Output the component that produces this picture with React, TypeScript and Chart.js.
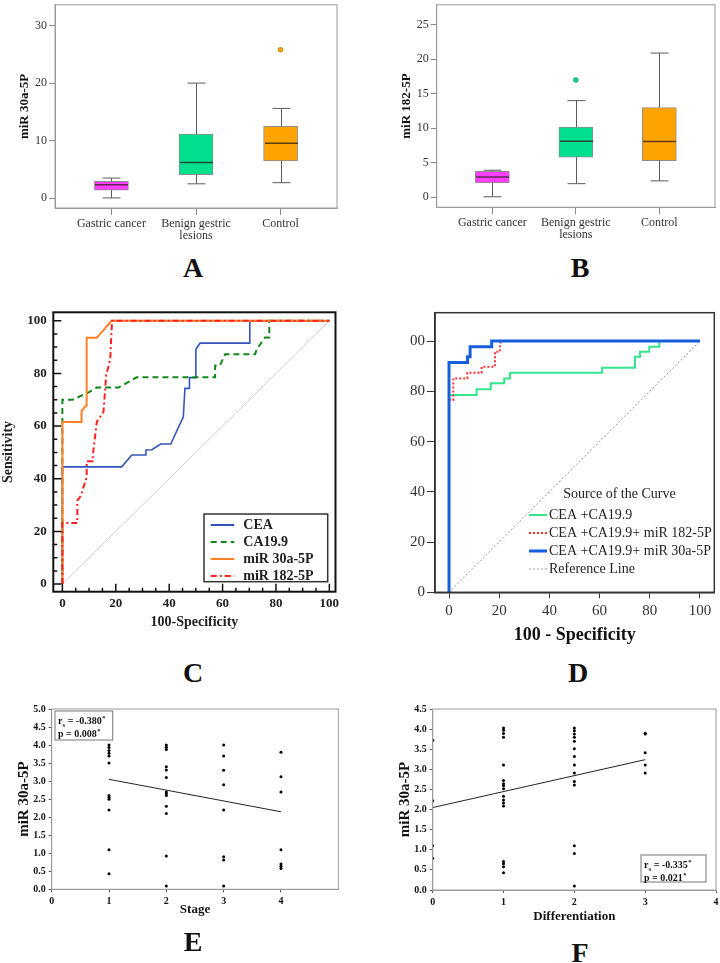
import React, { useEffect, useRef } from 'react';
import { Chart, registerables } from 'chart.js';

Chart.register(...registerables);

const SERIF = '"Liberation Serif", "Times New Roman", Times, serif';

// ---------------- Panels A & B : box plots ----------------
const groupLabels: (string | string[])[] = ['Gastric cancer', ['Benign gestric', 'lesions'], 'Control'];
const groupPos = [1, 2, 3];
const groupColors = ['#ff3dff', '#00e08e', '#ffa300'];

const miR30Min = [0.05, 2.5, 2.7];
const miR30Q1 = [1.4, 4.1, 6.5];
const miR30Median = [2.35, 6.2, 9.55];
const miR30Q3 = [2.95, 11.15, 12.5];
const miR30Max = [3.5, 20.0, 15.6];
const miR30OutlierGroup = [3];
const miR30OutlierValue = [25.8];
const miR30Ticks = [0, 10, 20, 30];

const miR182Min = [0.05, 1.95, 2.35];
const miR182Q1 = [2.05, 5.8, 5.3];
const miR182Median = [2.9, 8.1, 8.05];
const miR182Q3 = [3.75, 10.15, 13.0];
const miR182Max = [3.9, 14.0, 20.9];
const miR182OutlierGroup = [2];
const miR182OutlierValue = [17.0];
const miR182Ticks = [0, 5, 10, 15, 20, 25];

// ---------------- Panel C : single-marker ROC ----------------
const rocTicks = [0, 20, 40, 60, 80, 100];
const rocMinorTicks = [0, 5, 10, 15, 20, 25, 30, 35, 40, 45, 50, 55, 60, 65, 70, 75, 80, 85, 90, 95, 100];
const refX = [0, 100];
const refY = [0, 100];

const ceaX = [0, 0, 22.2, 26.0, 31.3, 31.3, 33.5, 36.8, 40.6, 45.3, 45.9, 47.6, 47.6, 49.7, 50.0, 51.6, 70.2, 70.2, 100];
const ceaY = [0, 44.5, 44.5, 49.0, 49.0, 50.9, 51.0, 53.2, 53.2, 63.5, 74.3, 74.3, 78.4, 78.4, 89.2, 91.5, 91.5, 100, 100];

const ca199X = [0, 0, 3.9, 10.0, 12.9, 21.0, 27.8, 57.2, 57.2, 59.0, 61.0, 72.2, 72.8, 75.9, 77.5, 77.5, 100];
const ca199Y = [0, 70.0, 70.0, 72.9, 74.6, 74.6, 78.5, 78.5, 83.0, 83.0, 87.3, 87.3, 89.2, 93.6, 93.6, 100, 100];

const mir30RocX = [0, 0, 7.2, 7.2, 8.9, 9.1, 12.9, 18.4, 100];
const mir30RocY = [0, 61.5, 61.5, 65.9, 67.8, 93.5, 93.5, 100, 100];

const mir182RocX = [0, 0, 5.6, 5.6, 7.0, 7.9, 9.1, 9.1, 11.4, 11.4, 12.9, 15.4, 16.4, 17.9, 18.6, 100];
const mir182RocY = [0, 23.2, 23.2, 31.7, 33.6, 36.8, 40.6, 46.6, 46.6, 48.9, 61.6, 65.4, 79.3, 85.1, 100, 100];

const cLegendLabels = ['CEA', 'CA19.9', 'miR 30a-5P', 'miR 182-5P'];

// ---------------- Panel D : combined ROC ----------------
const combX = [0, 0, 11.0, 11.0, 16.6, 16.6, 22.0, 22.0, 24.3, 24.3, 61.0, 61.0, 74.1, 74.1, 76.1, 76.1, 79.8, 79.8, 83.8, 83.8, 100];
const combY = [0, 78.5, 78.5, 80.8, 80.8, 83.2, 83.2, 85.1, 85.1, 87.4, 87.4, 89.4, 89.4, 93.8, 93.8, 95.8, 95.8, 97.7, 97.7, 100, 100];

const comb182X = [0, 0, 1.7, 1.7, 7.3, 7.3, 13.0, 13.0, 18.3, 18.3, 20.3, 20.3, 20.7, 100];
const comb182Y = [0, 76.5, 76.5, 85.1, 85.1, 87.4, 87.4, 89.8, 89.8, 95.8, 95.8, 99.0, 100, 100];

const comb30X = [0, 0, 7.4, 7.4, 8.4, 8.4, 17.0, 17.0, 100];
const comb30Y = [0, 91.5, 91.5, 93.8, 93.8, 97.7, 97.7, 100, 100];

const dLegendTitle = 'Source of the Curve';
const dLegendLabels = ['CEA +CA19.9', 'CEA +CA19.9+ miR 182-5P', 'CEA +CA19.9+ miR 30a-5P', 'Reference Line'];

// ---------------- Panel E : stage correlation ----------------
const stageTicks = [0, 1, 2, 3, 4];
const stage1 = [4.0, 3.93, 3.85, 3.77, 3.7, 3.5, 2.6, 2.55, 2.5, 2.2, 1.1, 0.43];
const stage2 = [4.0, 3.94, 3.88, 3.4, 3.31, 3.1, 2.7, 2.65, 2.6, 2.3, 2.1, 0.92, 0.09];
const stage3 = [4.0, 3.7, 3.3, 2.9, 2.2, 0.9, 0.81, 0.09];
const stage4 = [3.8, 3.12, 2.7, 1.1, 0.7, 0.64, 0.58];
const stageFitX = [1, 4];
const stageFitY = [3.05, 2.15];
const stageR = '-0.380';
const stageP = '0.008';
const eYTicks = [0, 0.5, 1, 1.5, 2, 2.5, 3, 3.5, 4, 4.5, 5];

// ---------------- Panel F : differentiation correlation ----------------
const diffTicks = [0, 1, 2, 3, 4];
const diff0 = [3.72, 2.22, 1.1, 0.79];
const diff1 = [4.03, 3.97, 3.89, 3.8, 3.11, 2.72, 2.64, 2.59, 2.52, 2.33, 2.24, 2.16, 2.09, 0.71, 0.65, 0.58, 0.43];
const diff2 = [4.03, 3.96, 3.88, 3.8, 3.7, 3.51, 3.32, 3.11, 2.91, 2.7, 2.61, 1.1, 0.91, 0.1];
const diff3 = [3.9, 3.88, 3.41, 3.11, 2.91];
const diffFitX = [0, 3];
const diffFitY = [2.05, 3.24];
const diffR = '-0.335';
const diffP = '0.021';
const fYTicks = [0, 0.5, 1, 1.5, 2, 2.5, 3, 3.5, 4, 4.5];

// ---------------- helpers ----------------
const pts = (xs: number[], ys: number[]) => xs.map((x, i) => ({ x, y: ys[i] }));
const groupPts = (g: number, vals: number[]) => vals.map((v) => ({ x: g, y: v }));
const setTicks = (vals: number[]) => (s: any) => {
  s.ticks = vals.map((v) => ({ value: v }));
};
const fixW = (w: number) => (s: any) => {
  s.width = w;
  s.paddingTop = 0;
  s.paddingBottom = 0;
};
const fixH = (h: number) => (s: any) => {
  s.height = h;
  s.paddingLeft = 0;
  s.paddingRight = 0;
};

const framePlugin = (color: string, width: number) => ({
  id: 'frame',
  afterDatasetsDraw(chart: any) {
    const { ctx, chartArea } = chart;
    const { left, top, right, bottom } = chartArea;
    ctx.save();
    ctx.strokeStyle = color;
    ctx.lineWidth = width;
    ctx.strokeRect(left, top, right - left, bottom - top);
    ctx.restore();
  },
});

const lineDs = (xs: number[], ys: number[], color: string, width: number, dash: number[], order: number) => ({
  data: pts(xs, ys),
  showLine: true,
  borderColor: color,
  backgroundColor: color,
  borderWidth: width,
  borderDash: dash,
  pointRadius: 0,
  pointHoverRadius: 0,
  fill: false,
  tension: 0,
  order,
});

// ---------------- box plot config ----------------
function boxConfig(s: any): any {
  const whiskers = {
    id: 'whiskers',
    afterDatasetsDraw(chart: any) {
      const { ctx } = chart;
      const x = chart.scales.x;
      const y = chart.scales.y;
      ctx.save();
      groupPos.forEach((g, i) => {
        const cx = Math.round(x.getPixelForValue(g)) + 0.5;
        const yMin = y.getPixelForValue(s.min[i]);
        const yQ1 = y.getPixelForValue(s.q1[i]);
        const yQ3 = y.getPixelForValue(s.q3[i]);
        const yMax = y.getPixelForValue(s.max[i]);
        const yMed = y.getPixelForValue(s.med[i]);
        ctx.strokeStyle = '#5c5c5c';
        ctx.lineWidth = 1;
        ctx.beginPath();
        ctx.moveTo(cx, yMin);
        ctx.lineTo(cx, yQ1);
        ctx.moveTo(cx, yQ3);
        ctx.lineTo(cx, yMax);
        ctx.moveTo(cx - 9, yMin);
        ctx.lineTo(cx + 9, yMin);
        ctx.moveTo(cx - 9, yMax);
        ctx.lineTo(cx + 9, yMax);
        ctx.stroke();
        ctx.strokeStyle = 'rgba(45,35,25,0.78)';
        ctx.lineWidth = 1.5;
        ctx.beginPath();
        ctx.moveTo(cx - 16.5, yMed);
        ctx.lineTo(cx + 16.5, yMed);
        ctx.stroke();
      });
      ctx.restore();
    },
  };
  return {
    type: 'bar',
    data: {
      datasets: [
        {
          type: 'bar',
          data: groupPos.map((g, i) => ({ x: g, y: [s.q1[i], s.q3[i]] })),
          backgroundColor: groupColors,
          borderColor: '#8d8d8d',
          borderWidth: 1,
          borderSkipped: false,
          barThickness: 34,
          order: 2,
        },
        {
          type: 'scatter',
          data: s.outG.map((g: number, i: number) => ({ x: g, y: s.outV[i] })),
          pointRadius: 2.3,
          pointBackgroundColor: s.outColor,
          pointBorderColor: s.outBorder,
          pointBorderWidth: 0.8,
          order: 1,
        },
      ],
    },
    options: {
      animation: false,
      responsive: false,
      maintainAspectRatio: false,
      layout: { padding: { top: s.topPad, right: s.rightPad, left: 0, bottom: 0 } },
      plugins: { legend: { display: false }, tooltip: { enabled: false } },
      scales: {
        x: {
          type: 'linear',
          min: 1 / 3,
          max: 11 / 3,
          offset: false,
          afterBuildTicks: setTicks(groupPos),
          afterFit: fixH(s.axisH),
          grid: { display: true, drawOnChartArea: false, drawTicks: true, tickLength: 7, color: '#8a8a8a', offset: false },
          border: { display: true, color: '#9a9a9a' },
          ticks: {
            autoSkip: false,
            maxRotation: 0,
            minRotation: 0,
            padding: 3,
            color: '#333',
            font: { family: SERIF, size: 12, lineHeight: 1.0 },
            callback: (v: number) => groupLabels[groupPos.indexOf(v)] ?? '',
          },
        },
        y: {
          type: 'linear',
          min: s.yMin,
          max: s.yMax,
          afterBuildTicks: setTicks(s.yTicks),
          afterFit: fixW(s.axisW),
          grid: { display: true, drawOnChartArea: false, drawTicks: true, tickLength: 6, color: '#8a8a8a', offset: false },
          border: { display: true, color: '#9a9a9a' },
          ticks: { padding: 2, color: '#333', font: { family: SERIF, size: 12 } },
          title: {
            display: true,
            text: s.yTitle,
            color: '#111',
            font: { family: SERIF, size: 13, weight: 'bold' },
            padding: { top: s.titlePad, bottom: 0 },
          },
        },
      },
    },
    plugins: [whiskers, framePlugin('#9a9a9a', 1)],
  };
}

const configA = () =>
  boxConfig({
    min: miR30Min, q1: miR30Q1, med: miR30Median, q3: miR30Q3, max: miR30Max,
    outG: miR30OutlierGroup, outV: miR30OutlierValue, outColor: '#ffa300', outBorder: '#b06a00',
    yMin: -1.7, yMax: 33.6, yTicks: miR30Ticks, yTitle: 'miR 30a-5P',
    axisW: 55, titlePad: 17.2, topPad: 2.3, rightPad: 13, axisH: 42,
  });

const configB = () =>
  boxConfig({
    min: miR182Min, q1: miR182Q1, med: miR182Median, q3: miR182Q3, max: miR182Max,
    outG: miR182OutlierGroup, outV: miR182OutlierValue, outColor: '#00e08e', outBorder: '#00905a',
    yMin: -1.48, yMax: 27.9, yTicks: miR182Ticks, yTitle: 'miR 182-5P',
    axisW: 76.7, titlePad: 38.9, topPad: 2.3, rightPad: 5, axisH: 42.7,
  });

// ---------------- Panel C config ----------------
const cStyles = [
  { color: '#3355bb', width: 1.6, dash: [] as number[] },
  { color: '#13881a', width: 2, dash: [6, 4] },
  { color: '#ff8026', width: 2, dash: [] as number[] },
  { color: '#ff1f1f', width: 2, dash: [6, 3, 2, 3] },
];

function configC(): any {
  const innerTicks = {
    id: 'innerTicks',
    afterDatasetsDraw(chart: any) {
      const { ctx, chartArea } = chart;
      const x = chart.scales.x;
      const y = chart.scales.y;
      ctx.save();
      ctx.strokeStyle = '#111';
      ctx.lineWidth = 1.5;
      ctx.beginPath();
      rocMinorTicks.forEach((v) => {
        const len = v % 20 === 0 ? 8 : 4;
        const px = x.getPixelForValue(v);
        ctx.moveTo(px, chartArea.bottom);
        ctx.lineTo(px, chartArea.bottom - len);
        const py = y.getPixelForValue(v);
        ctx.moveTo(chartArea.left, py);
        ctx.lineTo(chartArea.left + len, py);
      });
      ctx.stroke();
      ctx.restore();
    },
  };
  const legend = {
    id: 'cLegend',
    afterDatasetsDraw(chart: any) {
      const { ctx, chartArea } = chart;
      const bx = chartArea.right - 131.5;
      const by = chartArea.bottom - 77.7;
      const bw = 123.7;
      const bh = 67.7;
      ctx.save();
      ctx.fillStyle = '#fff';
      ctx.fillRect(bx, by, bw, bh);
      ctx.strokeStyle = '#333';
      ctx.lineWidth = 1.5;
      ctx.strokeRect(bx, by, bw, bh);
      ctx.font = `bold 14px ${SERIF}`;
      ctx.textBaseline = 'middle';
      ctx.textAlign = 'left';
      cLegendLabels.forEach((lab, i) => {
        const st = cStyles[i];
        const yy = by + 11 + 17 * i;
        ctx.strokeStyle = st.color;
        ctx.lineWidth = 2;
        ctx.setLineDash(st.dash);
        ctx.beginPath();
        ctx.moveTo(bx + 6.7, yy);
        ctx.lineTo(bx + 30.3, yy);
        ctx.stroke();
        ctx.setLineDash([]);
        ctx.fillStyle = '#222';
        ctx.fillText(lab, bx + 39.3, yy + 0.5);
      });
      ctx.restore();
    },
  };
  return {
    type: 'scatter',
    data: {
      datasets: [
        lineDs(refX, refY, '#cfcfcf', 1, [], 4),
        lineDs(ceaX, ceaY, cStyles[0].color, cStyles[0].width, cStyles[0].dash, 3),
        lineDs(ca199X, ca199Y, cStyles[1].color, cStyles[1].width, cStyles[1].dash, 2),
        lineDs(mir30RocX, mir30RocY, cStyles[2].color, cStyles[2].width, cStyles[2].dash, 1),
        lineDs(mir182RocX, mir182RocY, cStyles[3].color, cStyles[3].width, cStyles[3].dash, 0),
      ],
    },
    options: {
      animation: false,
      responsive: false,
      maintainAspectRatio: false,
      layout: { padding: { top: 12.3, right: 14.5, left: 0, bottom: 0 } },
      plugins: { legend: { display: false }, tooltip: { enabled: false } },
      scales: {
        x: {
          type: 'linear',
          min: -3.4,
          max: 102.3,
          afterBuildTicks: setTicks(rocTicks),
          afterFit: fixH(48.3),
          grid: { display: false, drawTicks: false },
          border: { display: false },
          ticks: { padding: 4, color: '#222', maxRotation: 0, font: { family: SERIF, size: 13, weight: 'bold' } },
          title: {
            display: true,
            text: '100-Specificity',
            color: '#222',
            font: { family: SERIF, size: 14, weight: 'bold' },
            padding: { top: 0, bottom: 9.3 },
          },
        },
        y: {
          type: 'linear',
          min: -2.9,
          max: 103.2,
          afterBuildTicks: setTicks(rocTicks),
          afterFit: fixW(53.3),
          grid: { display: false, drawTicks: false },
          border: { display: false },
          ticks: { padding: 6.6, color: '#222', font: { family: SERIF, size: 13, weight: 'bold' } },
          title: {
            display: true,
            text: 'Sensitivity',
            color: '#222',
            font: { family: SERIF, size: 14, weight: 'bold' },
            padding: { top: 0, bottom: 0 },
          },
        },
      },
    },
    plugins: [innerTicks, framePlugin('#111', 2), legend],
  };
}

// ---------------- Panel D config ----------------
const dStyles = [
  { color: '#35e58c', width: 2, dash: [] as number[] },
  { color: '#ff3030', width: 2, dash: [2, 2] },
  { color: '#165fdc', width: 3, dash: [] as number[] },
  { color: '#9a9a9a', width: 1, dash: [2, 2] },
];

function configD(): any {
  const legend = {
    id: 'dLegend',
    afterDatasetsDraw(chart: any) {
      const { ctx, chartArea } = chart;
      const { left, bottom } = chartArea;
      ctx.save();
      ctx.font = `14px ${SERIF}`;
      ctx.textBaseline = 'middle';
      ctx.textAlign = 'left';
      ctx.fillStyle = '#222';
      ctx.fillText(dLegendTitle, left + 128.3, bottom - 98.3);
      dLegendLabels.forEach((lab, i) => {
        const st = dStyles[i];
        const yy = bottom - 77.3 + 18 * i;
        ctx.strokeStyle = st.color;
        ctx.lineWidth = st.width;
        ctx.setLineDash(st.dash);
        ctx.beginPath();
        ctx.moveTo(left + 94, yy);
        ctx.lineTo(left + 112, yy);
        ctx.stroke();
        ctx.setLineDash([]);
        ctx.fillStyle = '#222';
        ctx.fillText(lab, left + 114, yy);
      });
      ctx.restore();
    },
  };
  return {
    type: 'scatter',
    data: {
      datasets: [
        lineDs(refX, refY, dStyles[3].color, dStyles[3].width, dStyles[3].dash, 3),
        lineDs(combX, combY, dStyles[0].color, dStyles[0].width, dStyles[0].dash, 2),
        lineDs(comb182X, comb182Y, dStyles[1].color, dStyles[1].width, dStyles[1].dash, 1),
        lineDs(comb30X, comb30Y, dStyles[2].color, dStyles[2].width, dStyles[2].dash, 0),
      ],
    },
    options: {
      animation: false,
      responsive: false,
      maintainAspectRatio: false,
      layout: { padding: { top: 12.7, right: 5.7, left: 0, bottom: 0 } },
      plugins: { legend: { display: false }, tooltip: { enabled: false } },
      scales: {
        x: {
          type: 'linear',
          min: -5.58,
          max: 105.7,
          afterBuildTicks: setTicks(rocTicks),
          afterFit: fixH(53.7),
          grid: { display: true, drawOnChartArea: false, tickLength: 6, color: '#333' },
          border: { display: true, color: '#333', width: 1.5 },
          ticks: { padding: 4, color: '#333', maxRotation: 0, font: { family: SERIF, size: 15 } },
          title: {
            display: true,
            text: '100 - Specificity',
            color: '#111',
            font: { family: SERIF, size: 18, weight: 'bold' },
            padding: { top: 0, bottom: 0 },
          },
        },
        y: {
          type: 'linear',
          min: 0,
          max: 111.3,
          afterBuildTicks: setTicks(rocTicks),
          afterFit: fixW(75),
          grid: { display: true, drawOnChartArea: false, tickLength: 8, color: '#333' },
          border: { display: true, color: '#333', width: 1.5 },
          // the leading "1" of 100 is cropped off in the original figure
          ticks: { padding: 2, color: '#333', font: { family: SERIF, size: 15 }, callback: (v: number) => (v === 100 ? '00' : String(v)) },
        },
      },
    },
    plugins: [framePlugin('#333', 1.5), legend],
  };
}

// ---------------- Panels E & F config ----------------
function drawStat(ctx: any, x: number, y: number, main: string, sub: string, value: string) {
  ctx.textBaseline = 'middle';
  ctx.textAlign = 'left';
  ctx.fillStyle = '#111';
  ctx.font = `bold 10px ${SERIF}`;
  ctx.fillText(main, x, y);
  let cx = x + ctx.measureText(main).width;
  if (sub) {
    ctx.font = `bold 7px ${SERIF}`;
    ctx.fillText(sub, cx, y + 3);
    cx += ctx.measureText(sub).width;
    ctx.font = `bold 10px ${SERIF}`;
  }
  const t = ` = ${value}`;
  ctx.fillText(t, cx, y);
  cx += ctx.measureText(t).width;
  ctx.font = `bold 6.5px ${SERIF}`;
  ctx.fillText('*', cx + 0.5, y - 3);
}

function scatterConfig(s: any): any {
  const stat = {
    id: 'stat',
    afterDatasetsDraw(chart: any) {
      const { ctx, chartArea } = chart;
      const b = s.box(chartArea);
      ctx.save();
      ctx.fillStyle = '#fff';
      ctx.fillRect(b.x, b.y, b.w, b.h);
      ctx.strokeStyle = '#777';
      ctx.lineWidth = 1;
      ctx.strokeRect(b.x, b.y, b.w, b.h);
      drawStat(ctx, b.x + 3, b.y + 10.7, 'r', 's', s.r);
      drawStat(ctx, b.x + 3, b.y + 23, 'p', '', s.p);
      ctx.restore();
    },
  };
  const groups = s.groups.map((vals: number[], i: number) => groupPts(s.groupX[i], vals)).flat();
  return {
    type: 'scatter',
    data: {
      datasets: [
        {
          data: groups,
          pointRadius: 1.5,
          pointBackgroundColor: '#000',
          pointBorderWidth: 0,
          pointHoverRadius: 1.5,
          clip: 0,
          order: 1,
        },
        lineDs(s.fitX, s.fitY, '#222', 1, [], 0),
      ],
    },
    options: {
      animation: false,
      responsive: false,
      maintainAspectRatio: false,
      layout: { padding: { top: s.topPad, right: s.rightPad, left: 0, bottom: 0 } },
      plugins: { legend: { display: false }, tooltip: { enabled: false } },
      scales: {
        x: {
          type: 'linear',
          min: s.xMin,
          max: s.xMax,
          afterBuildTicks: setTicks(s.xTicks),
          afterFit: fixH(s.axisH),
          grid: { display: true, drawOnChartArea: false, tickLength: 3, color: '#555' },
          border: { display: true, color: '#9a9a9a' },
          ticks: { padding: 3.4, color: '#111', maxRotation: 0, font: { family: SERIF, size: 10, weight: 'bold', lineHeight: 1.2 } },
          title: {
            display: true,
            text: s.xTitle,
            color: '#111',
            font: { family: SERIF, size: 13, weight: 'bold' },
            padding: { top: 0, bottom: s.xTitlePad },
          },
        },
        y: {
          type: 'linear',
          min: 0,
          max: s.yMax,
          afterBuildTicks: setTicks(s.yTicks),
          afterFit: fixW(s.axisW),
          grid: { display: true, drawOnChartArea: false, tickLength: 3, color: '#555' },
          border: { display: true, color: '#9a9a9a' },
          ticks: { padding: 3, color: '#111', font: { family: SERIF, size: 10, weight: 'bold' }, callback: (v: number) => v.toFixed(1) },
          title: {
            display: true,
            text: 'miR 30a-5P',
            color: '#111',
            font: { family: SERIF, size: 15, weight: 'bold' },
            padding: { top: s.yTitlePad, bottom: 0 },
          },
        },
      },
    },
    plugins: [framePlugin('#9a9a9a', 1), stat],
  };
}

const configE = () =>
  scatterConfig({
    groups: [stage1, stage2, stage3, stage4],
    groupX: [1, 2, 3, 4],
    fitX: stageFitX, fitY: stageFitY,
    r: stageR, p: stageP,
    xMin: 0, xMax: 5, xTicks: stageTicks, yMax: 5, yTicks: eYTicks,
    xTitle: 'Stage', xTitlePad: 12.2, yTitlePad: 15,
    topPad: 19, rightPad: 11.7, axisW: 51.7, axisH: 40.7,
    box: (a: any) => ({ x: a.left + 3.3, y: a.top + 2, w: 57.7, h: 29 }),
  });

const configF = () =>
  scatterConfig({
    groups: [diff0, diff1, diff2, diff3],
    groupX: [0, 1, 2, 3],
    fitX: diffFitX, fitY: diffFitY,
    r: diffR, p: diffP,
    xMin: 0, xMax: 4, xTicks: diffTicks, yMax: 4.5, yTicks: fYTicks,
    xTitle: 'Differentiation', xTitlePad: 5.5, yTitlePad: 36,
    topPad: 19, rightPad: 4, axisW: 72.7, axisH: 40,
    box: (a: any) => ({ x: a.right - 75, y: a.bottom - 35, w: 65, h: 27 }),
  });

// ---------------- components ----------------
function ChartCanvas({ left, top, width, height, make }: any) {
  const ref = useRef<HTMLCanvasElement | null>(null);
  useEffect(() => {
    const chart = new Chart(ref.current as HTMLCanvasElement, make());
    return () => chart.destroy();
  }, []);
  return <canvas ref={ref} width={width} height={height} style={{ position: 'absolute', left, top, width, height }} />;
}

const letters = [
  { t: 'A', x: 193, y: 268 },
  { t: 'B', x: 580, y: 268 },
  { t: 'C', x: 193, y: 673 },
  { t: 'D', x: 578, y: 673 },
  { t: 'E', x: 193, y: 942 },
  { t: 'F', x: 580, y: 953 },
];

export default function App() {
  return (
    <div style={{ position: 'absolute', left: 0, top: 0, width: 720, height: 963, background: '#fff', overflow: 'hidden' }}>
      <ChartCanvas left={0} top={0} width={350} height={250} make={configA} />
      <ChartCanvas left={360} top={0} width={360} height={250} make={configB} />
      <ChartCanvas left={0} top={300} width={350} height={340} make={configC} />
      <ChartCanvas left={360} top={300} width={360} height={346} make={configD} />
      <ChartCanvas left={0} top={690} width={350} height={240} make={configE} />
      <ChartCanvas left={360} top={690} width={360} height={240} make={configF} />
      {letters.map((l) => (
        <div
          key={l.t}
          style={{
            position: 'absolute',
            left: l.x,
            top: l.y,
            transform: 'translate(-50%, -50%)',
            fontFamily: SERIF,
            fontWeight: 'bold',
            fontSize: 28,
            lineHeight: '28px',
            color: '#111',
          }}
        >
          {l.t}
        </div>
      ))}
    </div>
  );
}
